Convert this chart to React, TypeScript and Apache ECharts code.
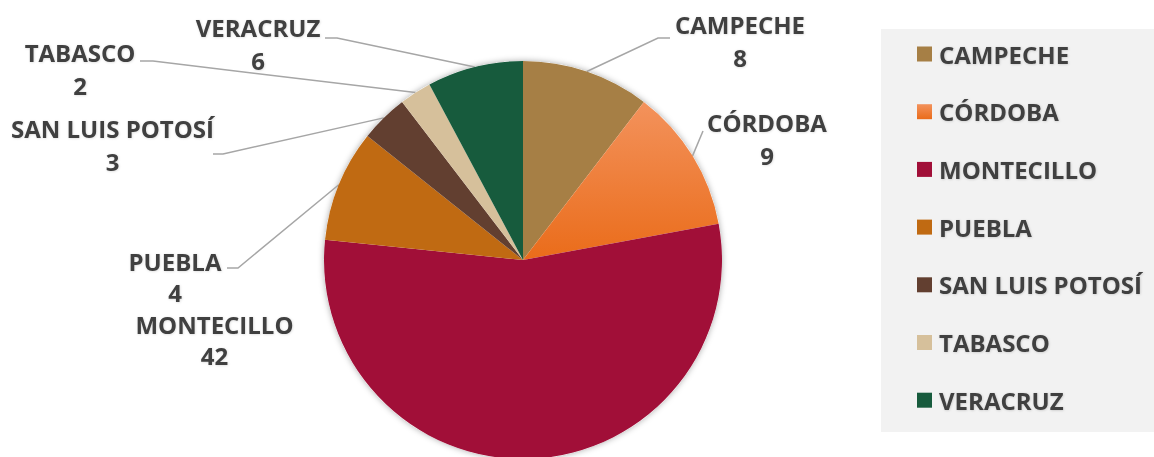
import React, { useEffect, useRef } from 'react';
import * as echarts from 'echarts';

// ---- data ----
const categories = ['CAMPECHE', 'CÓRDOBA', 'MONTECILLO', 'PUEBLA', 'SAN LUIS POTOSÍ', 'TABASCO', 'VERACRUZ'];
// slice sizes
const sliceValues = [8, 9, 42, 7, 3, 2, 6];
// values printed in the data labels of the reference
const labelValues = ['8', '9', '42', '4', '3', '2', '6'];

// ---- style / layout ----
const colors: any[] = [
  '#A67F45',
  { type: 'linear', x: 0, y: 0, x2: 0, y2: 1, colorStops: [{ offset: 0, color: '#F3925C' }, { offset: 1, color: '#EA6C1A' }] },
  '#A10F38',
  '#C06A12',
  '#623F30',
  '#D6C09B',
  '#175B3D',
];
const W = 1154;
const H = 457;
const CX = 523;
const CY = 260;
const R = 199;
const FONT = "'Open Sans', 'Noto Sans', sans-serif";
const TEXT = '#404040';
const FS = 24;
// centre of each two-line label block
const labelCenters = [[740, 41], [767, 139], [214.5, 340], [175, 277], [112.5, 145], [80, 69], [258, 43.5]];
const labelLineHeights = [33, 33, 31, 31, 33, 33, 33];
// elbow + end of each leader line (start is computed on the slice's outer edge)
const lineKnees: any[] = [
  [[658, 38], [670, 38]],
  [[703, 131], [703, 131]],
  null,
  [[238, 268], [227, 268]],
  [[223, 154], [213, 154]],
  [[153, 61], [140, 61]],
  [[337, 38], [325, 38]],
];

export default function App() {
  const ref = useRef<HTMLDivElement>(null);
  useEffect(() => {
    if (!ref.current) return;
    const chart = echarts.init(ref.current, null, { renderer: 'svg' });
    const total = sliceValues.reduce((a, b) => a + b, 0);
    const mids: number[] = [];
    let acc = 0;
    sliceValues.forEach((v) => {
      mids.push(((acc + v / 2) / total) * Math.PI * 2);
      acc += v;
    });
    chart.setOption({
      animation: false,
      graphic: [
        { type: 'rect', z: -10, shape: { x: 881, y: 29, width: 273, height: 403 }, style: { fill: '#F2F2F2' } },
      ],
      legend: {
        orient: 'vertical',
        left: 917,
        top: 42,
        padding: 0,
        itemWidth: 15,
        itemHeight: 15,
        itemGap: 33.7,
        icon: 'rect',
        selectedMode: false,
        data: categories,
        textStyle: {
          fontFamily: FONT,
          fontSize: FS,
          fontWeight: 'bold',
          color: TEXT,
          lineHeight: 20,
          padding: [0, 0, 0, 2],
          textShadowColor: 'rgba(0,0,0,0.18)',
          textShadowBlur: 2,
          textShadowOffsetX: 0.5,
          textShadowOffsetY: 0.5,
        },
      },
      series: [
        {
          type: 'pie',
          silent: true,
          z: 1,
          center: [CX, CY],
          radius: R,
          label: { show: false },
          labelLine: { show: false },
          itemStyle: { color: '#ffffff', shadowBlur: 6, shadowColor: 'rgba(0,0,0,0.35)' },
          data: [{ name: '_bg', value: 1 }],
        },
        {
          type: 'pie',
          z: 2,
          center: [CX, CY],
          radius: R,
          startAngle: 90,
          clockwise: true,
          avoidLabelOverlap: false,
          data: categories.map((name, i) => ({
            name,
            value: sliceValues[i],
            itemStyle: { color: colors[i] },
            label: { lineHeight: labelLineHeights[i] },
            labelLine: { show: lineKnees[i] != null },
          })),
          label: {
            show: true,
            position: 'outside',
            overflow: 'none',
            formatter: (p: any) => p.name + '\n' + labelValues[p.dataIndex],
            fontFamily: FONT,
            fontSize: FS,
            fontWeight: 'bold',
            color: TEXT,
            lineHeight: 33,
            align: 'center',
            textShadowColor: 'rgba(0,0,0,0.15)',
            textShadowBlur: 2,
            textShadowOffsetX: 0.5,
            textShadowOffsetY: 0.5,
          },
          labelLine: {
            lineStyle: { color: '#A6A6A6', width: 1.5 },
          },
          labelLayout: (params: any) => {
            const i = params.dataIndex;
            const [x, y] = labelCenters[i];
            const res: any = { x, y, align: 'center', verticalAlign: 'middle' };
            const k = lineKnees[i];
            if (k) {
              const m = mids[i];
              const sx = CX + R * Math.sin(m);
              const sy = CY - R * Math.cos(m);
              res.labelLinePoints = [[sx, sy], k[0], k[1]];
            }
            return res;
          },
        },
      ],
    });
    return () => chart.dispose();
  }, []);
  return <div ref={ref} style={{ position: 'absolute', left: 0, top: 0, width: W, height: H }} />;
}
